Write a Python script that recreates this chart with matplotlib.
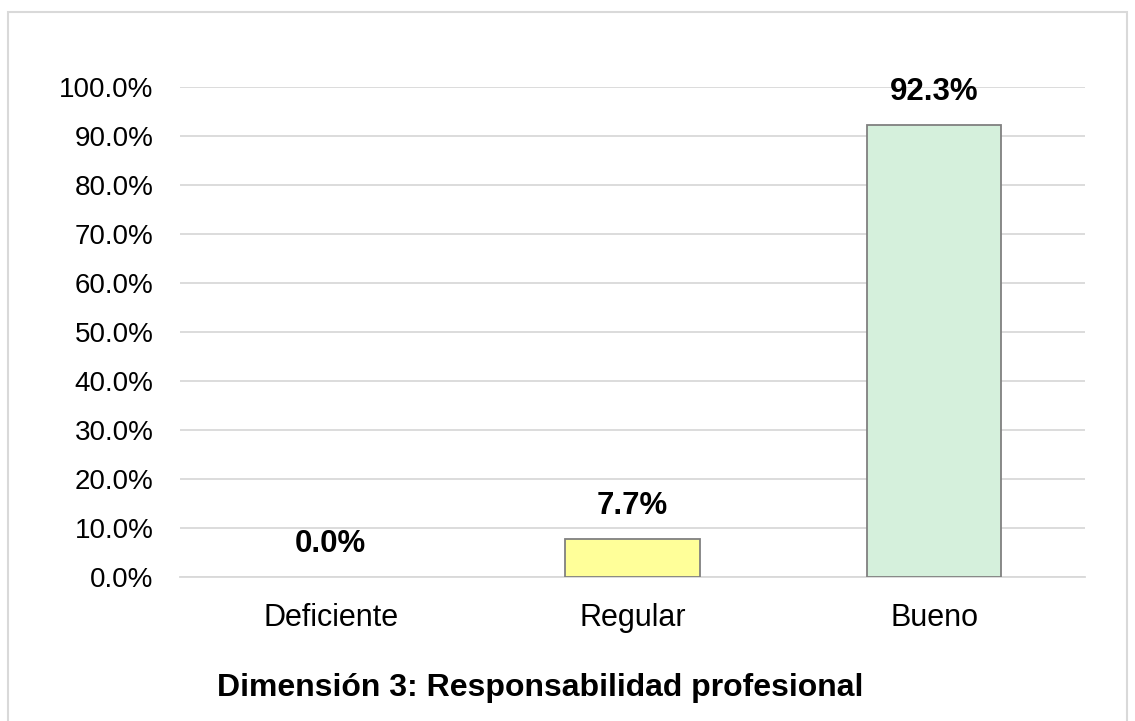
import matplotlib.pyplot as plt
from matplotlib.patches import Rectangle
from matplotlib.ticker import FuncFormatter

categories = ['Deficiente', 'Regular', 'Bueno']
percentages = [0.0, 7.7, 92.3]
bar_colors = ['#ffff99', '#ffff99', '#d5f0dc']
title = 'Dimensión 3: Responsabilidad profesional'

plt.rcParams['font.family'] = ['Liberation Sans', 'DejaVu Sans']

fig = plt.figure(figsize=(11.35, 7.21), dpi=100)
ax = fig.add_axes([180 / 1135, 1 - 577 / 721, 905 / 1135, 490 / 721])

x = range(len(categories))
edge_widths = [1.3 if v > 0 else 0 for v in percentages]
ax.bar(x, percentages, width=0.445, color=bar_colors, edgecolor='#808080',
       linewidth=edge_widths, zorder=3)

for i, v in enumerate(percentages):
    ax.annotate(f'{v:.1f}%', (i, v), xytext=(0, 13), textcoords='offset points',
                ha='center', va='bottom', fontsize=22.5, fontweight='bold', color='black')

ax.set_xlim(-0.5, 2.5)
ax.set_ylim(0, 100)
ax.set_yticks(range(0, 101, 10))
ax.yaxis.set_major_formatter(FuncFormatter(lambda v, p: f'{v:.1f}%'))
ax.set_xticks(list(x))
ax.set_xticklabels(categories)
ax.tick_params(axis='both', length=0, colors='black')
ax.tick_params(axis='x', pad=19, labelsize=22)
ax.tick_params(axis='y', pad=19, labelsize=20)
ax.grid(axis='y', color='#d9d9d9', linewidth=1.3, zorder=0)
for side in ['left', 'right', 'top']:
    ax.spines[side].set_visible(False)
ax.spines['bottom'].set_color('#d9d9d9')
ax.spines['bottom'].set_linewidth(1.3)

fig.text(540 / 1135, 1 - 688 / 721, title, ha='center', va='center',
         fontsize=23, fontweight='bold')

fig.patches.append(Rectangle((8 / 1135, -0.05), 1119 / 1135, 1.05 - 12 / 721,
                             transform=fig.transFigure, fill=False,
                             edgecolor='#d9d9d9', linewidth=1.5))

fig.savefig('out.png', dpi=100)
